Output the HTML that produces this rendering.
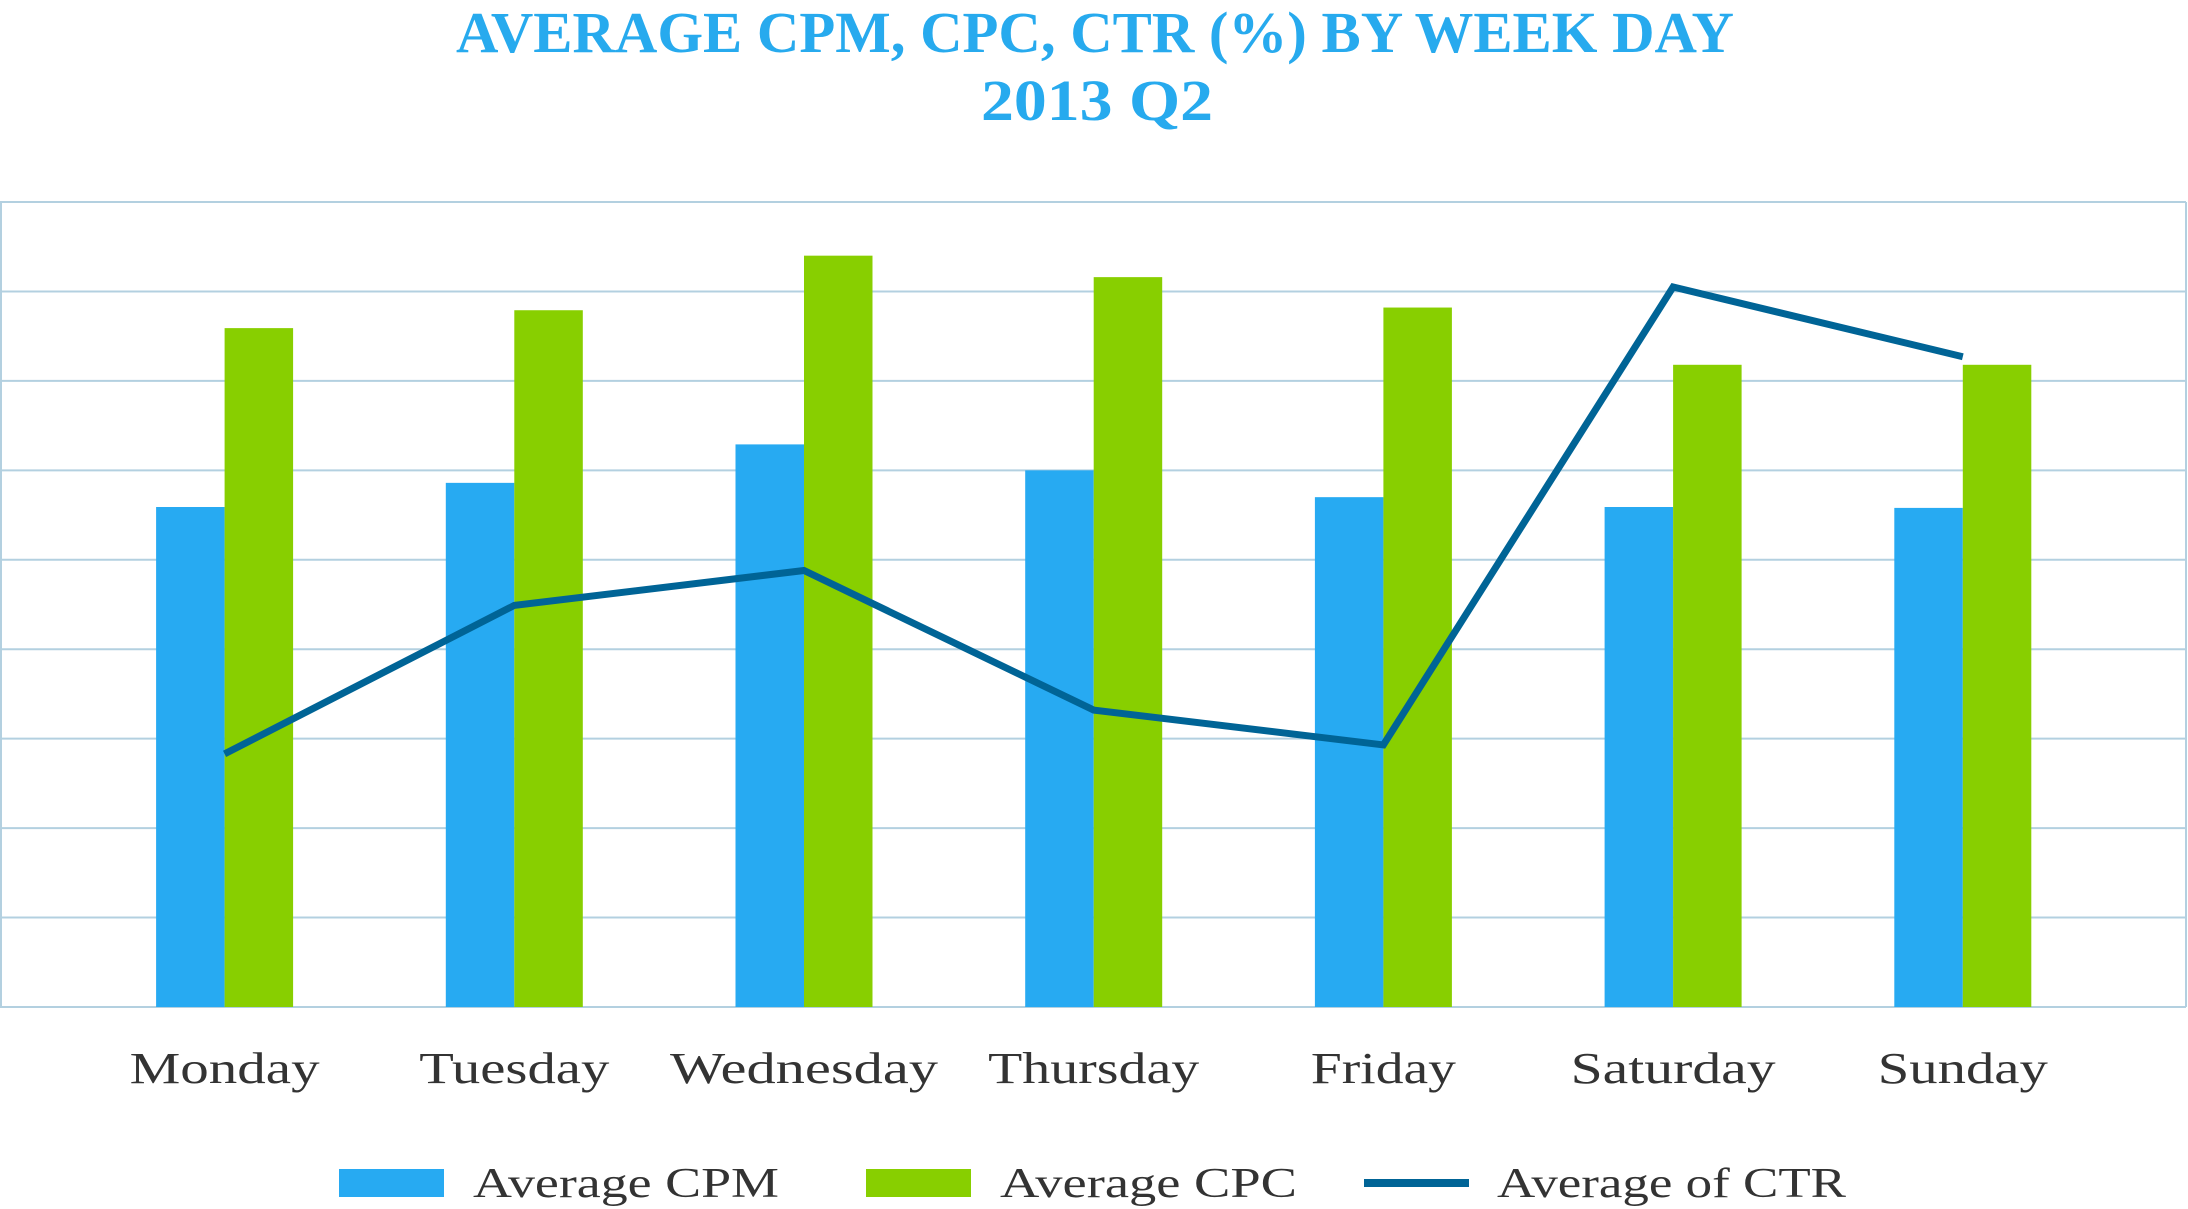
<!DOCTYPE html>
<html><head><meta charset="utf-8"><style>
html,body{margin:0;padding:0;background:#fff;}
svg{display:block;}
</style></head><body>
<svg id="chart" width="2188" height="1209" viewBox="0 0 2188 1209" xmlns="http://www.w3.org/2000/svg">
<text x="1095" y="52" text-anchor="middle" textLength="1278" lengthAdjust="spacingAndGlyphs" font-family="'Liberation Serif',serif" font-weight="bold" font-size="58" fill="#27aaee">AVERAGE CPM, CPC, CTR (%) BY WEEK DAY</text>
<text x="1097" y="120" text-anchor="middle" textLength="232" lengthAdjust="spacingAndGlyphs" font-family="'Liberation Serif',serif" font-weight="bold" font-size="58" fill="#27aaee">2013 Q2</text>
<g id="grid"></g>
<g id="bars"></g>
<g id="line"></g>
<g id="xlabels"></g>
<g>
  <rect x="339" y="1169" width="105" height="28" fill="#27aaf2"/>
  <text x="473" y="1197" textLength="306" lengthAdjust="spacingAndGlyphs" font-family="'Liberation Serif',serif" font-size="42" fill="#333">Average CPM</text>
  <rect x="866" y="1169" width="105" height="28" fill="#88cf00"/>
  <text x="1000" y="1197" textLength="297" lengthAdjust="spacingAndGlyphs" font-family="'Liberation Serif',serif" font-size="42" fill="#333">Average CPC</text>
  <rect x="1364" y="1179" width="105" height="8" fill="#006496"/>
  <text x="1497" y="1197" textLength="349" lengthAdjust="spacingAndGlyphs" font-family="'Liberation Serif',serif" font-size="42" fill="#333">Average of CTR</text>
</g>
</svg>
<script>
const categories = ["Monday","Tuesday","Wednesday","Thursday","Friday","Saturday","Sunday"];
const cpmValues = [5.59, 5.86, 6.29, 6.0, 5.70, 5.59, 5.58];
const cpcValues = [7.59, 7.79, 8.40, 8.16, 7.82, 7.18, 7.18];
const ctrValues = [2.83, 4.49, 4.88, 3.32, 2.93, 8.05, 7.27];
const gridTicks = [0,1,2,3,4,5,6,7,8,9];

const NS = "http://www.w3.org/2000/svg";
const labelWidths = [190, 190, 268, 211, 145, 205, 170];
const plotTop = 202, plotBottom = 1007, yMax = 9;
const firstCenter = 224.6, step = 289.7, barW = 68.5;
function y(v){ return plotBottom - (v / yMax) * (plotBottom - plotTop); }
function xc(i){ return firstCenter + i * step; }
function mk(tag, attrs, parent){
  const e = document.createElementNS(NS, tag);
  for (const k in attrs) e.setAttribute(k, attrs[k]);
  parent.appendChild(e); return e;
}
const grid = document.getElementById('grid');
gridTicks.forEach(t => {
  const l = mk('line', {x1:0, x2:2186, y1:y(t), y2:y(t), stroke:'#b3d0e0', 'stroke-width':2}, grid);
  
  
});
const lb = mk('line', {x1:1, x2:1, y1:plotTop, y2:plotBottom, stroke:'#b3d0e0', 'stroke-width':2}, grid);


const rb = mk('line', {x1:2186, x2:2186, y1:plotTop, y2:plotBottom, stroke:'#b3d0e0', 'stroke-width':2}, grid);



const bars = document.getElementById('bars');
categories.forEach((c, i) => {
  const b1 = mk('rect', {x:xc(i)-barW, y:y(cpmValues[i]), width:barW, height:plotBottom-y(cpmValues[i]), fill:'#27aaf2'}, bars);
  
  
  const b2 = mk('rect', {x:xc(i), y:y(cpcValues[i]), width:barW, height:plotBottom-y(cpcValues[i]), fill:'#88cf00'}, bars);
  
  
  const t = mk('text', {x:xc(i), y:1083, 'text-anchor':'middle', textLength:labelWidths[i], lengthAdjust:'spacingAndGlyphs', 'font-family':"'Liberation Serif',serif", 'font-size':44, fill:'#333'}, document.getElementById('xlabels'));
  t.textContent = c;
  
  
});
const pts = ctrValues.map((v, i) => xc(i) + ',' + y(v)).join(' ');
const pl = mk('polyline', {points:pts, fill:'none', stroke:'#006496', 'stroke-width':7, 'stroke-linejoin':'miter'}, document.getElementById('line'));


</script>
</body></html>
